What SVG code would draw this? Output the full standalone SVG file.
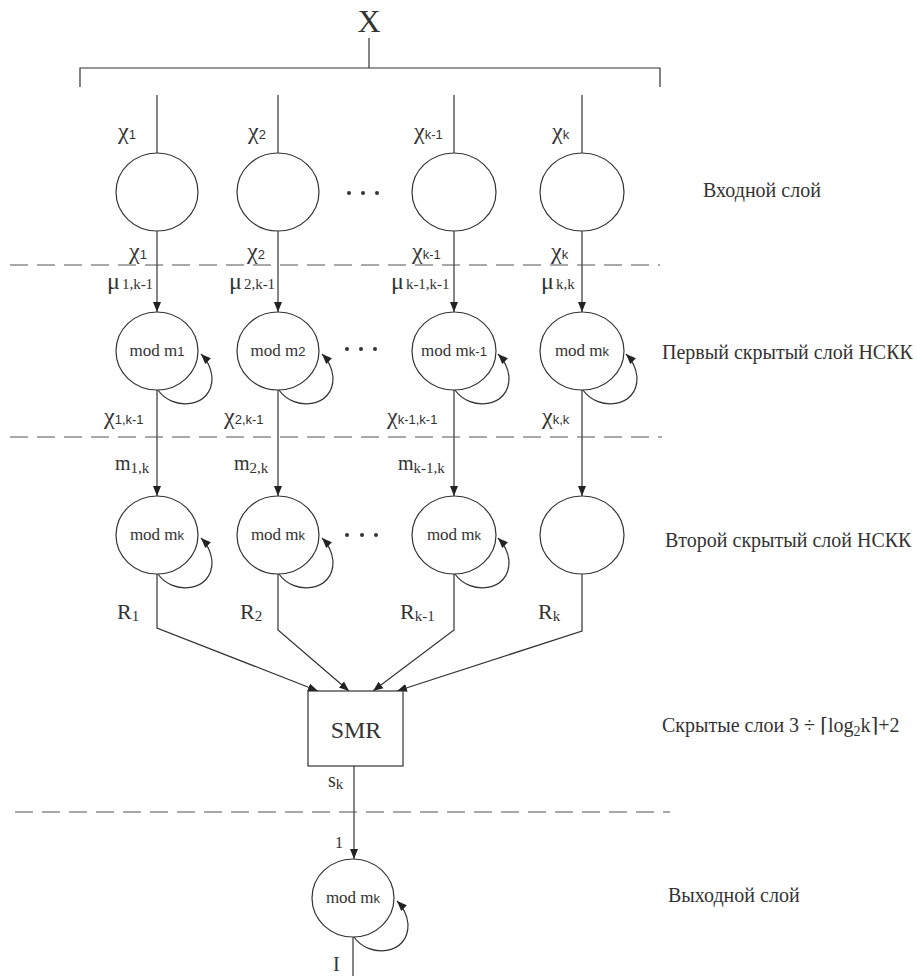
<svg xmlns="http://www.w3.org/2000/svg" width="917" height="976" viewBox="0 0 917 976">
<style>
.ln{stroke:#333;stroke-width:1.2;fill:none}
.dash{stroke:#555;stroke-width:1.2;fill:none;stroke-dasharray:18 9}
.nd{stroke:#333;stroke-width:1.2;fill:#fff}
.dot{fill:#333}
</style>
<defs>
<marker id="ar" markerUnits="userSpaceOnUse" markerWidth="10" markerHeight="10" viewBox="0 0 10 10" refX="10" refY="5" orient="auto">
<path d="M0,1 L10,5 L0,9 z" fill="#222"/>
</marker>
<path id="loop" d="M1 39 C15 60 56 58 55 26 C54 16 50 9 44 3"/>
</defs>

<g id="connectors">
<path class="ln" d="M369 38 V68 M80 87 V68 H660 V87"/>
<path class="ln" d="M157 95 V153 M278 95 V153 M454 95 V153 M582 95 V153"/>
<path class="ln" marker-end="url(#ar)" d="M157 231 V312"/>
<path class="ln" marker-end="url(#ar)" d="M278 231 V312"/>
<path class="ln" marker-end="url(#ar)" d="M454 231 V312"/>
<path class="ln" marker-end="url(#ar)" d="M582 231 V312"/>
<path class="ln" marker-end="url(#ar)" d="M157 390 V496"/>
<path class="ln" marker-end="url(#ar)" d="M278 390 V496"/>
<path class="ln" marker-end="url(#ar)" d="M454 390 V496"/>
<path class="ln" marker-end="url(#ar)" d="M582 390 V496"/>
<path class="ln" marker-end="url(#ar)" d="M157 574 V628 L318 691"/>
<path class="ln" marker-end="url(#ar)" d="M278 574 V630 L349 691"/>
<path class="ln" marker-end="url(#ar)" d="M454 574 V630 L373 691"/>
<path class="ln" marker-end="url(#ar)" d="M582 574 V631 L397 691"/>
<path class="ln" marker-end="url(#ar)" d="M354 766 V859"/>
<path class="ln" d="M353 937 V976"/>
<use href="#loop" class="ln" marker-end="url(#ar)" transform="translate(157,351)"/>
<use href="#loop" class="ln" marker-end="url(#ar)" transform="translate(278,351)"/>
<use href="#loop" class="ln" marker-end="url(#ar)" transform="translate(454,351)"/>
<use href="#loop" class="ln" marker-end="url(#ar)" transform="translate(582,351)"/>
<use href="#loop" class="ln" marker-end="url(#ar)" transform="translate(157,535)"/>
<use href="#loop" class="ln" marker-end="url(#ar)" transform="translate(278,535)"/>
<use href="#loop" class="ln" marker-end="url(#ar)" transform="translate(454,535)"/>
<use href="#loop" class="ln" marker-end="url(#ar)" transform="translate(353,898)"/>
</g>

<g id="separators">
<path class="dash" d="M10 265 H660"/>
<path class="dash" d="M10 437 H662"/>
<path class="dash" d="M15 812 H670"/>
</g>

<g font-family="'Liberation Serif', 'DejaVu Serif', serif" fill="#333">
<text x="369" y="32" font-size="32" text-anchor="middle">X</text>

<g id="in1"><ellipse class="nd" cx="157" cy="192" rx="41" ry="39"/></g>
<g id="in2"><ellipse class="nd" cx="278" cy="192" rx="41" ry="39"/></g>
<g id="in3"><ellipse class="nd" cx="454" cy="192" rx="42" ry="39"/></g>
<g id="in4"><ellipse class="nd" cx="582" cy="192" rx="42" ry="39"/></g>

<g id="h1_1"><ellipse class="nd" cx="157" cy="351" rx="41" ry="39"/><text font-size="17" x="157" y="356" text-anchor="middle">mod m<tspan font-size="13" font-family="'Liberation Sans', sans-serif">1</tspan></text></g>
<g id="h1_2"><ellipse class="nd" cx="278" cy="351" rx="41" ry="39"/><text font-size="17" x="278" y="356" text-anchor="middle">mod m<tspan font-size="13" font-family="'Liberation Sans', sans-serif">2</tspan></text></g>
<g id="h1_3"><ellipse class="nd" cx="454" cy="351" rx="42" ry="39"/><text font-size="17" x="454" y="356" text-anchor="middle">mod m<tspan font-size="13" font-family="'Liberation Sans', sans-serif">k-1</tspan></text></g>
<g id="h1_4"><ellipse class="nd" cx="582" cy="351" rx="42" ry="39"/><text font-size="17" x="582" y="356" text-anchor="middle">mod m<tspan font-size="13" font-family="'Liberation Sans', sans-serif">k</tspan></text></g>

<g id="h2_1"><ellipse class="nd" cx="157" cy="535" rx="41" ry="39"/><text font-size="17" x="157" y="540" text-anchor="middle">mod m<tspan font-size="13" font-family="'Liberation Sans', sans-serif">k</tspan></text></g>
<g id="h2_2"><ellipse class="nd" cx="278" cy="535" rx="41" ry="39"/><text font-size="17" x="278" y="540" text-anchor="middle">mod m<tspan font-size="13" font-family="'Liberation Sans', sans-serif">k</tspan></text></g>
<g id="h2_3"><ellipse class="nd" cx="454" cy="535" rx="42" ry="39"/><text font-size="17" x="454" y="540" text-anchor="middle">mod m<tspan font-size="13" font-family="'Liberation Sans', sans-serif">k</tspan></text></g>
<g id="h2_4"><ellipse class="nd" cx="582" cy="535" rx="42" ry="39"/></g>

<g id="smr"><rect class="nd" x="308" y="691" width="95" height="75"/><text x="356" y="738" font-size="24" text-anchor="middle">SMR</text></g>

<g id="out"><ellipse class="nd" cx="353" cy="898" rx="41" ry="39"/><text font-size="17" x="353" y="903" text-anchor="middle">mod m<tspan font-size="13" font-family="'Liberation Sans', sans-serif">k</tspan></text></g>

<g id="dots">
<circle class="dot" cx="349" cy="193" r="2"/><circle class="dot" cx="363" cy="193" r="2"/><circle class="dot" cx="377" cy="193" r="2"/>
<circle class="dot" cx="347" cy="349" r="2"/><circle class="dot" cx="361" cy="349" r="2"/><circle class="dot" cx="375" cy="349" r="2"/>
<circle class="dot" cx="347" cy="535" r="2"/><circle class="dot" cx="362" cy="535" r="2"/><circle class="dot" cx="376" cy="535" r="2"/>
</g>

<g id="labels">
<g font-size="24">
<text x="118" y="139">χ<tspan font-size="13" font-family="'Liberation Sans', sans-serif">1</tspan></text>
<text x="248" y="139">χ<tspan font-size="13" font-family="'Liberation Sans', sans-serif">2</tspan></text>
<text x="414" y="139">χ<tspan font-size="13" font-family="'Liberation Sans', sans-serif">k-1</tspan></text>
<text x="552" y="139">χ<tspan font-size="13" font-family="'Liberation Sans', sans-serif">k</tspan></text>

<text x="129" y="259">χ<tspan font-size="13" font-family="'Liberation Sans', sans-serif">1</tspan></text>
<text x="247" y="259">χ<tspan font-size="13" font-family="'Liberation Sans', sans-serif">2</tspan></text>
<text x="412" y="259">χ<tspan font-size="13" font-family="'Liberation Sans', sans-serif">k-1</tspan></text>
<text x="551" y="259">χ<tspan font-size="13" font-family="'Liberation Sans', sans-serif">k</tspan></text>

<text x="107" y="289">μ<tspan font-size="15" dx="2">1,k-1</tspan></text>
<text x="229" y="289">μ<tspan font-size="15" dx="2">2,k-1</tspan></text>
<text x="391" y="289">μ<tspan font-size="15" dx="2">k-1,k-1</tspan></text>
<text x="541" y="289">μ<tspan font-size="15" dx="2">k,k</tspan></text>

<text x="104" y="424">χ<tspan font-size="13" font-family="'Liberation Sans', sans-serif">1,k-1</tspan></text>
<text x="224" y="424">χ<tspan font-size="13" font-family="'Liberation Sans', sans-serif">2,k-1</tspan></text>
<text x="387" y="424">χ<tspan font-size="13" font-family="'Liberation Sans', sans-serif">k-1,k-1</tspan></text>
<text x="542" y="424">χ<tspan font-size="13" font-family="'Liberation Sans', sans-serif">k,k</tspan></text>
</g>

<text font-size="20" x="115" y="470">m<tspan font-size="15" dy="3">1,k</tspan></text>
<text font-size="20" x="234" y="470">m<tspan font-size="15" dy="3">2,k</tspan></text>
<text font-size="20" x="398" y="470">m<tspan font-size="15" dy="3">k-1,k</tspan></text>

<text font-size="22" x="117" y="619">R<tspan font-size="15" dy="2">1</tspan></text>
<text font-size="22" x="240" y="619">R<tspan font-size="15" dy="2">2</tspan></text>
<text font-size="22" x="400" y="619">R<tspan font-size="15" dy="2">k-1</tspan></text>
<text font-size="22" x="538" y="619">R<tspan font-size="15" dy="2">k</tspan></text>

<text font-size="20" x="328" y="787">s<tspan font-size="15" dy="2">k</tspan></text>
<text font-size="16" x="335" y="848">1</text>
<text font-size="20" x="333" y="971">I</text>

<g font-size="20">
<text x="703" y="197">Входной  слой</text>
<text x="662" y="359">Первый скрытый слой НСКК</text>
<text x="665" y="547">Второй скрытый слой НСКК</text>
<text x="662" y="732">Скрытые слои 3 ÷ ⌈log<tspan font-size="14" dy="4">2</tspan><tspan dy="-4">k⌉+2</tspan></text>
<text x="668" y="902">Выходной слой</text>
</g>
</g>
</g>
</svg>
